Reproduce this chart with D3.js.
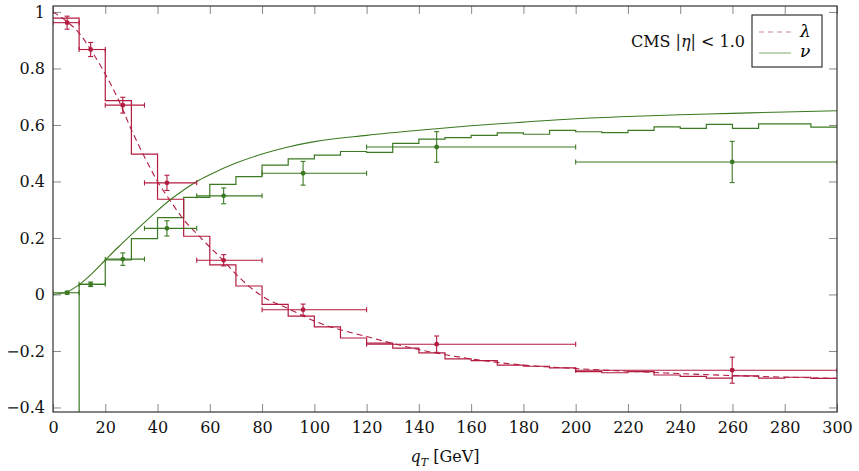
<!DOCTYPE html>
<html lang="en">
<head>
  <meta charset="UTF-8">
  <title>CMS lambda nu vs qT</title>
  <script src="https://d3js.org/d3.v7.min.js"></script>
  <style>
    body {
      margin: 0;
      background: #fff;
    }
    svg text {
      font-family: "DejaVu Serif", serif;
    }
    .tick text {
      font-size: 16px;
      fill: #111;
    }
    .tick line {
      stroke: #8a8a8a;
    }
  </style>
</head>
<body>
  <script>
    // bin edges (GeV) of the model histograms
    const binLeft = [0, 10, 20, 30, 40, 50, 60, 70, 80, 90, 100, 110, 120, 130, 140,
      150, 160, 170, 180, 190, 200, 210, 220, 230, 240, 250, 260, 270, 280, 290];
    const binEnd = 300;

    const lambdaHist = [0.978, 0.867, 0.686, 0.497, 0.337, 0.206, 0.105, 0.030, -0.035, -0.077,
      -0.115, -0.154, -0.172, -0.190, -0.207, -0.228, -0.234, -0.250, -0.254, -0.260,
      -0.273, -0.277, -0.273, -0.285, -0.290, -0.296, -0.288, -0.296, -0.293, -0.297];
    // first nu bin is far below the frame
    const nuHist = [-0.6, 0.036, 0.122, 0.198, 0.272, 0.344, 0.390, 0.417, 0.458, 0.480,
      0.493, 0.506, 0.503, 0.535, 0.550, 0.555, 0.563, 0.572, 0.567, 0.581,
      0.576, 0.573, 0.581, 0.593, 0.588, 0.602, 0.588, 0.604, 0.604, 0.592];

    // smooth curves
    const lambdaCurveX = [0, 5, 10, 15, 20, 25, 30, 35, 40, 45, 50, 55, 60, 65, 70, 80, 90, 100,
      120, 140, 160, 180, 200, 225, 260, 300];
    const lambdaCurveY = [1.0, 0.968, 0.925, 0.858, 0.78, 0.69, 0.583, 0.487, 0.40, 0.33, 0.265,
      0.215, 0.168, 0.122, 0.072, -0.006, -0.05, -0.094, -0.149, -0.195, -0.228, -0.25,
      -0.262, -0.274, -0.287, -0.297];
    const nuCurveX = [0, 5, 10, 15, 20, 25, 30, 35, 40, 45, 50, 55, 60, 70, 80, 90, 100,
      120, 140, 160, 180, 200, 220, 240, 260, 280, 300];
    const nuCurveY = [0, 0.008, 0.035, 0.075, 0.122, 0.168, 0.212, 0.255, 0.297, 0.336, 0.37,
      0.40, 0.424, 0.465, 0.497, 0.522, 0.541, 0.563, 0.581, 0.597, 0.610, 0.622, 0.630,
      0.636, 0.641, 0.646, 0.650];

    // CMS measurements
    const dataX = [5.4, 14.4, 26.7, 43.6, 65.3, 95.7, 146.8, 259.9];
    const dataLo = [0, 10, 20, 35, 55, 80, 120, 200];
    const dataHi = [10, 20, 35, 55, 80, 120, 200, 300];
    const lambdaData = [0.962, 0.867, 0.670, 0.395, 0.121, -0.054, -0.176, -0.268];
    const lambdaErr = [0.023, 0.025, 0.028, 0.027, 0.020, 0.020, 0.029, 0.046];
    const nuData = [0.006, 0.036, 0.125, 0.234, 0.349, 0.429, 0.522, 0.469];
    const nuErr = [0.005, 0.008, 0.022, 0.027, 0.028, 0.042, 0.054, 0.073];

    const xTicks = [0, 20, 40, 60, 80, 100, 120, 140, 160, 180, 200, 220, 240, 260, 280, 300];
    const yTicks = [-0.4, -0.2, 0, 0.2, 0.4, 0.6, 0.8, 1];

    const red = '#b31b40';
    const green = '#3b7a22';

    const width = 859, height = 471;
    const margin = { top: 6, right: 22, bottom: 59, left: 53 };
    const w = width - margin.left - margin.right;
    const h = height - margin.top - margin.bottom;

    const svg = d3.select('body').append('svg')
      .attr('width', width)
      .attr('height', height);

    const g = svg.append('g')
      .attr('transform', `translate(${margin.left},${margin.top})`);

    const x = d3.scaleLinear().domain([0, 300]).range([0, w]);
    const y = d3.scaleLinear().domain([-0.416, 1.021]).range([h, 0]);

    svg.append('defs').append('clipPath').attr('id', 'clip')
      .append('rect').attr('width', w).attr('height', h);

    const fmt = v => v === 0 ? '0' : (v === 1 ? '1' : d3.format('.1f')(v).replace('-', '\u2212'));

    // axes, ticks pointing inward on all four sides
    const axBottom = g.append('g').attr('transform', `translate(0,${h})`)
      .call(d3.axisBottom(x).tickValues(xTicks).tickSize(-8).tickPadding(10).tickFormat(d3.format('d')));
    const axTop = g.append('g')
      .call(d3.axisTop(x).tickValues(xTicks).tickSize(-8).tickFormat(''));
    const axLeft = g.append('g')
      .call(d3.axisLeft(y).tickValues(yTicks).tickSize(-8).tickPadding(8).tickFormat(fmt));
    const axRight = g.append('g').attr('transform', `translate(${w},0)`)
      .call(d3.axisRight(y).tickValues(yTicks).tickSize(-8).tickFormat(''));
    [axBottom, axTop, axLeft, axRight].forEach(a => {
      a.select('.domain').remove();
      a.attr('font-family', null);
    });

    const plot = g.append('g').attr('clip-path', 'url(#clip)');

    // step histograms
    const step = d3.line()
      .x(d => x(d[0]))
      .y(d => y(d[1]))
      .curve(d3.curveStepAfter);

    function histPoints(vals) {
      const pts = binLeft.map((b, i) => [b, vals[i]]);
      pts.push([binEnd, vals[vals.length - 1]]);
      return pts;
    }

    plot.append('path')
      .attr('d', step(histPoints(nuHist)))
      .attr('fill', 'none')
      .attr('stroke', green)
      .attr('stroke-width', 1.2);

    plot.append('path')
      .attr('d', step(histPoints(lambdaHist)))
      .attr('fill', 'none')
      .attr('stroke', red)
      .attr('stroke-width', 1.2);

    // smooth curves
    const smooth = d3.line()
      .x(d => x(d[0]))
      .y(d => y(d[1]))
      .curve(d3.curveMonotoneX);

    plot.append('path')
      .attr('d', smooth(nuCurveX.map((v, i) => [v, nuCurveY[i]])))
      .attr('fill', 'none')
      .attr('stroke', green)
      .attr('stroke-width', 1.1);

    plot.append('path')
      .attr('d', smooth(lambdaCurveX.map((v, i) => [v, lambdaCurveY[i]])))
      .attr('fill', 'none')
      .attr('stroke', red)
      .attr('stroke-width', 1.1)
      .attr('stroke-dasharray', '6,4');

    // data points with error bars
    function drawData(vals, errs, color) {
      const grp = plot.append('g')
        .attr('stroke', color)
        .attr('fill', color)
        .attr('stroke-width', 1.1);
      dataX.forEach((xv, i) => {
        const cy = y(vals[i]);
        const cx = x(xv);
        grp.append('line')
          .attr('x1', x(dataLo[i])).attr('x2', x(dataHi[i]))
          .attr('y1', cy).attr('y2', cy);
        [dataLo[i], dataHi[i]].forEach(e => {
          grp.append('line')
            .attr('x1', x(e)).attr('x2', x(e))
            .attr('y1', cy - 2.5).attr('y2', cy + 2.5);
        });
        const y0 = y(vals[i] - errs[i]), y1 = y(vals[i] + errs[i]);
        grp.append('line')
          .attr('x1', cx).attr('x2', cx)
          .attr('y1', y0).attr('y2', y1);
        [y0, y1].forEach(yy => {
          grp.append('line')
            .attr('x1', cx - 2.5).attr('x2', cx + 2.5)
            .attr('y1', yy).attr('y2', yy);
        });
        grp.append('circle')
          .attr('cx', cx).attr('cy', cy).attr('r', 2.4)
          .attr('stroke', 'none');
      });
    }
    drawData(nuData, nuErr, green);
    drawData(lambdaData, lambdaErr, red);

    // frame
    g.append('rect')
      .attr('width', w).attr('height', h)
      .attr('fill', 'none')
      .attr('stroke', '#333')
      .attr('stroke-width', 1.2);

    // annotation
    const note = g.append('text')
      .attr('x', 692).attr('y', 41)
      .attr('text-anchor', 'end')
      .attr('font-size', 16)
      .attr('fill', '#111');
    note.append('tspan').text('CMS |');
    note.append('tspan').attr('font-style', 'italic').text('η');
    note.append('tspan').text('| < 1.0');

    // legend
    const lg = g.append('g').attr('transform', 'translate(699,9)');
    lg.append('rect')
      .attr('width', 70).attr('height', 52)
      .attr('fill', '#fff')
      .attr('stroke', '#222')
      .attr('stroke-width', 1.1);
    lg.append('line')
      .attr('x1', 7).attr('x2', 39).attr('y1', 17).attr('y2', 17)
      .attr('stroke', red).attr('stroke-opacity', 0.55)
      .attr('stroke-width', 1.2).attr('stroke-dasharray', '5,4');
    lg.append('line')
      .attr('x1', 7).attr('x2', 39).attr('y1', 38).attr('y2', 38)
      .attr('stroke', green).attr('stroke-opacity', 0.55)
      .attr('stroke-width', 1.2);
    lg.append('text')
      .attr('x', 48).attr('y', 22)
      .attr('font-size', 17).attr('font-style', 'italic')
      .text('λ');
    lg.append('text')
      .attr('x', 48).attr('y', 42)
      .attr('font-size', 17).attr('font-style', 'italic')
      .text('ν');

    // x axis title
    const title = svg.append('text')
      .attr('x', margin.left + w / 2)
      .attr('y', 462)
      .attr('text-anchor', 'middle')
      .attr('font-size', 16)
      .attr('fill', '#111');
    title.append('tspan').attr('font-style', 'italic').text('q');
    title.append('tspan').attr('font-style', 'italic').attr('font-size', 11).attr('dy', 4).text('T');
    title.append('tspan').attr('dy', -4).text(' [GeV]');
  </script>
</body>
</html>
